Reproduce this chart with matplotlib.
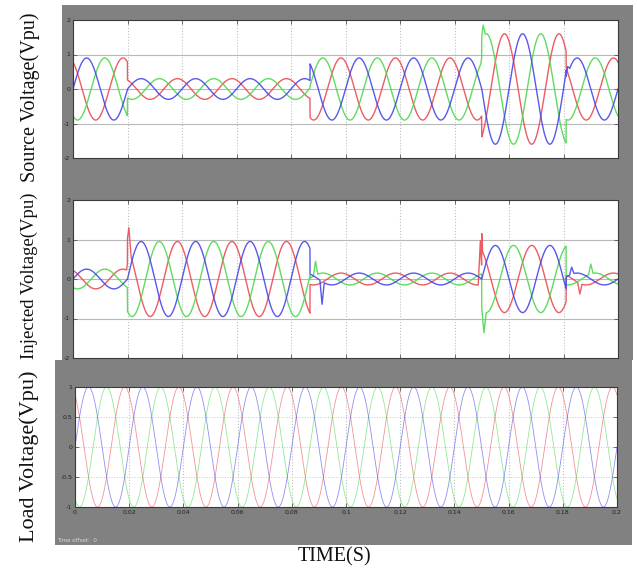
import numpy as np
import matplotlib.pyplot as plt
from matplotlib.patches import Rectangle

# waveform data
FREQ = 50.0
T_END = 0.2
phase_names = ['red', 'green', 'blue']
phase_deg = [120, -120, 0]
line_colors = ['#ec4a52', '#4fd84f', '#4646ea']

seg_edges = [0.0, 0.02, 0.087, 0.15, 0.181, 0.2]
source_amp = [0.9, 0.3, 0.9, 1.6, 0.9]
injected_amp = [0.25, 0.95, 0.15, -0.85, 0.15]
load_amp = [1.0, 1.0, 1.0, 1.0, 1.0]

# transient spikes: (time, value) per phase
source_spikes = {'red': [], 'green': [(0.1505, 1.85)], 'blue': [(0.1815, 0.65)]}
injected_spikes = {'red': [(0.0205, 1.3), (0.1495, 0.97), (0.186, -0.38)],
                   'green': [(0.089, 0.45), (0.1508, -1.36), (0.19, 0.38)],
                   'blue': [(0.0914, -0.64), (0.183, 0.3)]}
load_spikes = {'red': [], 'green': [], 'blue': []}

x_ticks = [0, 0.02, 0.04, 0.06, 0.08, 0.1, 0.12, 0.14, 0.16, 0.18, 0.2]
x_tick_labels = ['0', '0.02', '0.04', '0.06', '0.08', '0.1', '0.12', '0.14', '0.16', '0.18', '0.2']
y_ticks_12 = [2, 1, 0, -1, -2]
y_ticks_3 = [1, 0.5, 0, -0.5, -1]

t = np.linspace(0, T_END, 4001)


def wave(amps, spikes, ph, name):
    seg = np.clip(np.searchsorted(seg_edges, t, side='right') - 1, 0, len(amps) - 1)
    a = np.array(amps)[seg]
    y = a * np.sin(2 * np.pi * FREQ * t + np.deg2rad(ph))
    for ts, v in spikes[name]:
        i = np.argmin(np.abs(t - ts))
        w = np.clip(1 - np.abs(t - ts) / 0.0008, 0, None)
        y = y + (v - y[i]) * w
    return y


W, H = 637, 571
fig = plt.figure(figsize=(W / 100, H / 100), dpi=100)
fig.patch.set_facecolor('white')

grey = '#818181'
greys = [(62, 5, 633, 182), (62, 182, 633, 360), (55, 360, 632, 545)]
for x0, y0, x1, y1 in greys:
    fig.patches.append(Rectangle((x0 / W, 1 - y1 / H), (x1 - x0) / W, (y1 - y0) / H,
                                 transform=fig.transFigure, facecolor=grey,
                                 edgecolor='none', zorder=-10))

boxes = [(73, 20, 618, 158), (73, 200, 618, 358), (75, 387, 617, 507)]
data_sets = [(source_amp, source_spikes), (injected_amp, injected_spikes), (load_amp, load_spikes)]

for k, ((x0, y0, x1, y1), (amps, spk)) in enumerate(zip(boxes, data_sets)):
    ax = fig.add_axes([x0 / W, 1 - y1 / H, (x1 - x0) / W, (y1 - y0) / H])
    ax.set_zorder(5)
    ax.set_facecolor('white')
    for name, ph, c in zip(phase_names, phase_deg, line_colors):
        y = wave(amps, spk, ph, name)
        if k == 2:
            ax.plot(t, y, color=c, lw=0.6, alpha=0.6)
        else:
            ax.plot(t, y, color=c, lw=1.0, alpha=0.9)
    ax.set_xlim(0, T_END)
    ax.set_xticks(x_ticks)
    if k < 2:
        ax.set_ylim(-2, 2)
        ax.set_yticks(y_ticks_12)
        ax.set_yticklabels([str(v) for v in y_ticks_12])
        ax.set_xticklabels([])
        ax.axhline(1, color='#b8b8b8', lw=0.8, zorder=0)
        ax.axhline(-1, color='#b8b8b8', lw=0.8, zorder=0)
        ax.axhline(0, color='#b8b8b8', lw=0.8, zorder=0)
    else:
        ax.set_ylim(-1, 1)
        ax.set_yticks(y_ticks_3)
        ax.set_yticklabels(['1', '0.5', '0', '-0.5', '-1'])
        ax.set_xticklabels(x_tick_labels)
        ax.grid(axis='y', color='#c8c8c8', ls=':', lw=0.7)
    ax.grid(axis='x', color='#c0c0c0', ls=':', lw=0.8)
    ax.tick_params(direction='in', top=True, right=True, length=3, width=0.6,
                   labelsize=4.5, labelcolor='#222222', color='#555555', pad=2)
    for s in ax.spines.values():
        s.set_color('#3a3a3a')
        s.set_linewidth(0.8)

fig.text(57 / W, 1 - 540 / H, 'Time offset:  0', fontsize=4, color='#d8d8d8',
         ha='left', va='center')

serif = ['Liberation Serif', 'DejaVu Serif']
fig.text(30 / W, 1 - 97 / H, 'Source Voltage(Vpu)', rotation=90, fontsize=14.5,
         family=serif, ha='center', va='center', color='#111111')
fig.text(29 / W, 1 - 276 / H, 'Injected Voltage(Vpu)', rotation=90, fontsize=13.5,
         family=serif, ha='center', va='center', color='#111111')
fig.text(29 / W, 1 - 456 / H, 'Load Voltage(Vpu)', rotation=90, fontsize=16,
         family=serif, ha='center', va='center', color='#111111')
fig.text(335 / W, 1 - 557 / H, 'TIME(S)', fontsize=14.5, family=serif,
         ha='center', va='center', color='#111111')

fig.savefig('out.png', dpi=100)
